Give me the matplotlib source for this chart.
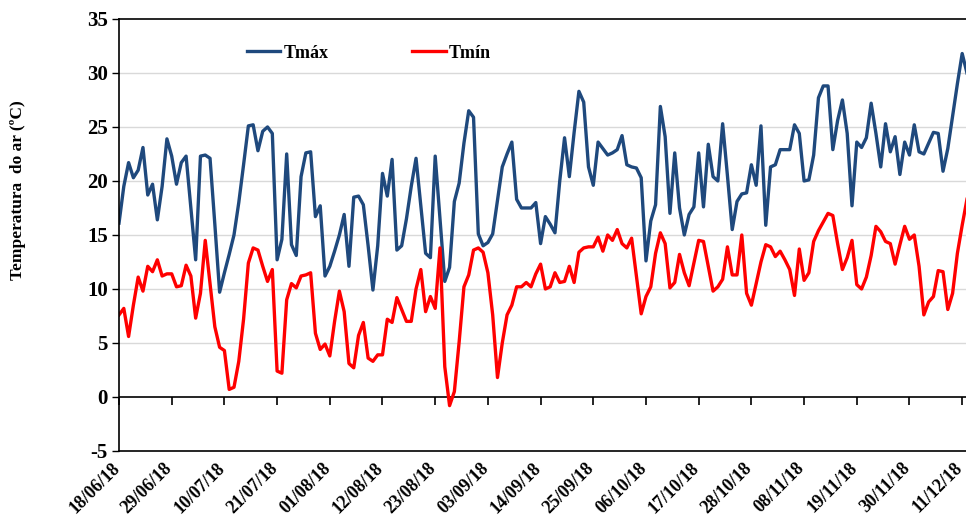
import numpy as np
import pandas as pd
import matplotlib
matplotlib.use("Agg")
import matplotlib.pyplot as plt
import matplotlib.dates as mdates
from matplotlib.transforms import ScaledTranslation

# daily air temperature, 18/06/18 onwards
START = "2018-06-18"

tmax = [16.1, 19.5, 21.7, 20.3, 21.0, 23.1, 18.7, 19.7, 16.4, 19.5,
        23.9, 22.3, 19.7, 21.7, 22.3, 17.5, 12.7, 22.3, 22.4, 22.1,
        16.0, 9.7, 11.5, 13.2, 15.0, 18.0, 21.5, 25.1, 25.2, 22.8,
        24.6, 25.0, 24.4, 12.7, 14.6, 22.5, 14.1, 13.1, 20.4, 22.6,
        22.7, 16.7, 17.7, 11.2, 12.1, 13.5, 15.0, 16.9, 12.1, 18.5,
        18.6, 17.8, 14.0, 9.9, 14.0, 20.7, 18.6, 22.0, 13.6, 14.0,
        16.5, 19.5, 22.1, 17.7, 13.3, 12.9, 22.3, 16.5, 10.7, 12.0,
        18.1, 19.8, 23.5, 26.5, 25.9, 15.1, 14.0, 14.3, 15.1, 18.2,
        21.3, 22.5, 23.6, 18.3, 17.5, 17.5, 17.5, 18.0, 14.2, 16.7,
        16.0, 15.2, 20.0, 24.0, 20.4, 24.5, 28.3, 27.3, 21.3, 19.6,
        23.6, 23.0, 22.4, 22.6, 22.9, 24.2, 21.5, 21.3, 21.2, 20.3,
        12.6, 16.3, 17.8, 26.9, 24.1, 17.0, 22.6, 17.5, 15.0, 16.9,
        17.6, 22.6, 17.6, 23.4, 20.4, 20.0, 25.3, 20.5, 15.5, 18.1,
        18.8, 18.9, 21.5, 19.6, 25.1, 15.9, 21.3, 21.5, 22.9, 22.9,
        22.9, 25.2, 24.4, 20.0, 20.1, 22.4, 27.7, 28.8, 28.8, 22.9,
        25.6, 27.5, 24.4, 17.7, 23.6, 23.1, 24.0, 27.2, 24.4, 21.3,
        25.3, 22.7, 24.1, 20.6, 23.6, 22.4, 25.2, 22.7, 22.5, 23.5,
        24.5, 24.4, 20.9, 23.0, 26.0, 29.0, 31.8, 30.0]

tmin = [7.6, 8.2, 5.6, 8.5, 11.1, 9.8, 12.1, 11.6, 12.7, 11.2,
        11.4, 11.4, 10.2, 10.3, 12.2, 11.2, 7.3, 9.6, 14.5, 10.5,
        6.5, 4.6, 4.3, 0.7, 0.9, 3.3, 7.2, 12.4, 13.8, 13.6,
        12.1, 10.7, 11.8, 2.4, 2.2, 9.0, 10.5, 10.1, 11.2, 11.3,
        11.5, 5.9, 4.4, 4.9, 3.8, 7.0, 9.8, 7.9, 3.1, 2.7,
        5.7, 6.9, 3.6, 3.3, 3.9, 3.9, 7.2, 6.9, 9.2, 8.1,
        7.0, 7.0, 10.0, 11.8, 7.9, 9.3, 8.2, 13.8, 2.8, -0.8,
        0.5, 5.1, 10.2, 11.3, 13.6, 13.8, 13.4, 11.5, 7.6, 1.8,
        5.0, 7.6, 8.5, 10.2, 10.2, 10.6, 10.2, 11.4, 12.3, 10.0,
        10.2, 11.5, 10.6, 10.7, 12.1, 10.6, 13.4, 13.8, 13.9, 13.9,
        14.8, 13.5, 15.0, 14.5, 15.5, 14.2, 13.8, 14.7, 11.2, 7.7,
        9.3, 10.2, 13.3, 15.2, 14.2, 10.1, 10.6, 13.2, 11.5, 10.3,
        12.4, 14.5, 14.4, 12.1, 9.8, 10.2, 10.9, 13.9, 11.3, 11.3,
        15.0, 9.6, 8.5, 10.5, 12.5, 14.1, 13.9, 13.0, 13.5, 12.7,
        11.8, 9.4, 13.7, 10.8, 11.5, 14.4, 15.4, 16.2, 17.0, 16.8,
        14.2, 11.8, 12.9, 14.5, 10.4, 10.0, 11.1, 13.1, 15.8, 15.3,
        14.4, 14.2, 12.3, 14.1, 15.8, 14.6, 15.0, 12.1, 7.6, 8.8,
        9.3, 11.7, 11.6, 8.1, 9.6, 13.3, 15.9, 18.3]

dates = pd.date_range(START, periods=len(tmax), freq="D")
tick_dates = pd.date_range(START, "2018-12-11", freq="11D")

plt.rcParams["font.family"] = "Liberation Serif"
plt.rcParams["font.weight"] = "bold"
plt.rcParams["axes.unicode_minus"] = False

fig = plt.figure(figsize=(9.66, 5.21), dpi=100)
ax = fig.add_axes([0.1232, 0.1344, 0.8778, 0.8292])

ax.plot(dates, tmax, color="#1f497d", lw=2.4, label="Tmáx", solid_joinstyle="round")
ax.plot(dates, tmin, color="#ff0000", lw=2.4, label="Tmín", solid_joinstyle="round")

ax.set_ylim(-5, 35)
ax.set_yticks(range(-5, 36, 5))
ax.set_xlim(dates[0], dates[-1])

# light horizontal grid, black zero line with date tick marks
for v in range(5, 35, 5):
    ax.axhline(v, color="#d9d9d9", lw=1.0, zorder=0)
ax.axhline(0, color="black", lw=1.2, zorder=1)

ax.spines["bottom"].set_position(("data", 0))
ax.spines["bottom"].set_visible(False)
ax.set_xticks(tick_dates)
ax.tick_params(axis="x", direction="out", length=6, width=1.2, labelbottom=False)
ax.tick_params(axis="y", direction="out", length=5, width=1.0, labelsize=15, pad=3)
for s in ["left", "top", "right"]:
    ax.spines[s].set_linewidth(1.2)

# date labels sit along the lower border of the plot area
sec = ax.secondary_xaxis(0.0)
sec.set_xticks(tick_dates)
sec.xaxis.set_major_formatter(mdates.DateFormatter("%d/%m/%y"))
sec.tick_params(axis="x", length=0, pad=6, labelsize=13)
sec.spines["bottom"].set_linewidth(1.2)
shift = ScaledTranslation(-8 / 100, 0, fig.dpi_scale_trans)
for lab in sec.get_xticklabels():
    lab.set_rotation(45)
    lab.set_ha("right")
    lab.set_va("top")
    lab.set_rotation_mode("anchor")
    lab.set_transform(lab.get_transform() + shift)

fig.text(0.019, 0.635, "Temperatura  do ar (ºC)", rotation=90,
         ha="center", va="center", fontsize=12.5, fontweight="bold")

ax.legend(loc="center", bbox_to_anchor=(0.295, 0.921), ncol=2, frameon=False,
          fontsize=13, handlelength=1.85, handletextpad=0.2, columnspacing=4.6)

fig.savefig("out.png", dpi=100)
